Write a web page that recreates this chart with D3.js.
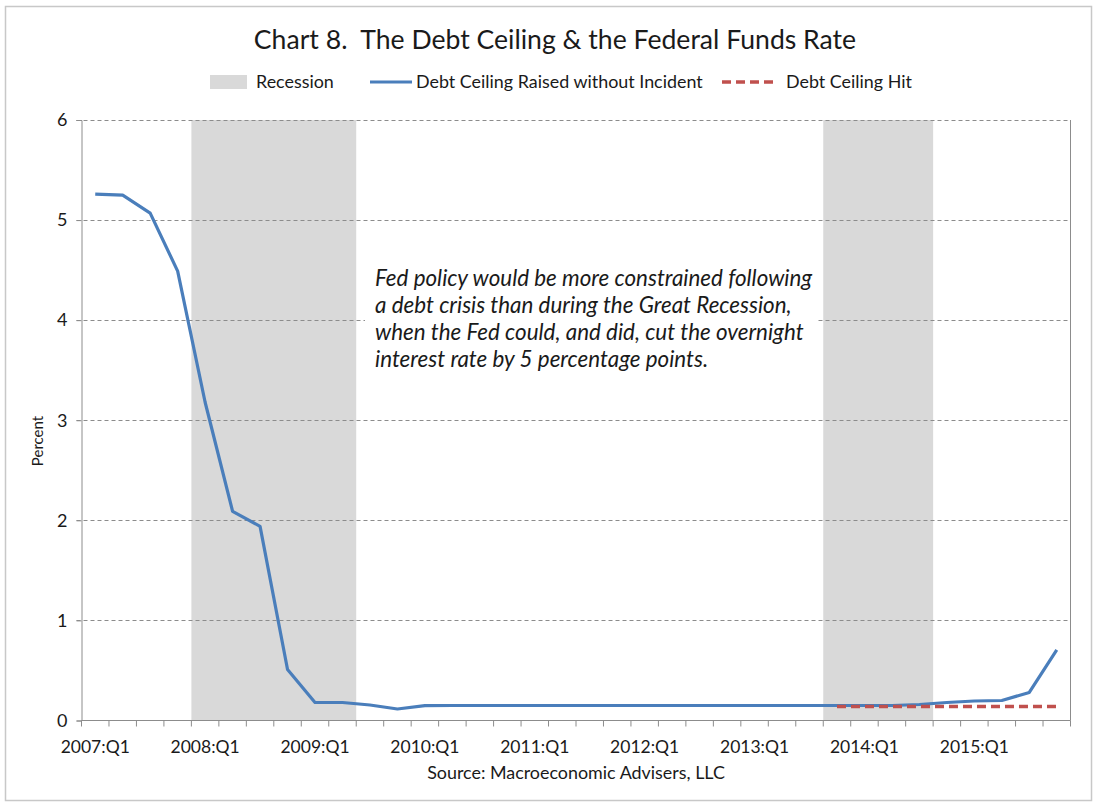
<!DOCTYPE html>
<html>
<head>
<meta charset="utf-8">
<script src="https://cdn.jsdelivr.net/npm/d3@7"></script>
<style>
  html, body { margin: 0; padding: 0; background: #fff; }
  svg { display: block; }
  text { font-family: Lato, "Open Sans", sans-serif; fill: #1a1a1a; }
</style>
</head>
<body>
<svg id="chart" width="1098" height="803"></svg>
<script>
// Quarterly categories, 2007:Q1 through 2015:Q4
const years = [2007, 2008, 2009, 2010, 2011, 2012, 2013, 2014, 2015];
const quarters = years.flatMap(y => ["Q1", "Q2", "Q3", "Q4"].map(q => `${y}:${q}`));

// Federal funds rate, percent (baseline path: debt ceiling raised without incident)
const raisedWithoutIncident = [
  5.26, 5.25, 5.07, 4.49,
  3.18, 2.09, 1.94, 0.51,
  0.18, 0.18, 0.155, 0.115,
  0.148, 0.15, 0.15, 0.15,
  0.15, 0.15, 0.15, 0.15,
  0.15, 0.15, 0.15, 0.15,
  0.15, 0.15, 0.15, 0.15,
  0.15, 0.15, 0.16, 0.18,
  0.195, 0.20, 0.28, 0.705
];

// Federal funds rate, percent (debt ceiling hit scenario, from 2013:Q4)
const debtCeilingHit = [
  null, null, null, null,
  null, null, null, null,
  null, null, null, null,
  null, null, null, null,
  null, null, null, null,
  null, null, null, null,
  null, null, null, 0.14,
  0.14, 0.14, 0.14, 0.14,
  0.14, 0.14, 0.14, 0.14
];

// Recession periods (first and last quarter)
const recessionStart = ["2008:Q1", "2013:Q4"];
const recessionEnd   = ["2009:Q2", "2014:Q3"];

// Axis labels
const yTicks = [0, 1, 2, 3, 4, 5, 6];
const xLabelQuarters = years.map(y => `${y}:Q1`);

const titleText = "Chart 8.  The Debt Ceiling & the Federal Funds Rate";
const noteLines = [
  "Fed policy would be more constrained following",
  "a debt crisis than during the Great Recession,",
  "when the Fed could, and did, cut the overnight",
  "interest rate by 5 percentage points."
];

const svg = d3.select("#chart");
const W = 1098, H = 803;
const plot = { left: 81.5, right: 1070.5, top: 120, bottom: 720.5 };

const x = d3.scaleBand().domain(quarters).range([plot.left, plot.right]).paddingInner(0).paddingOuter(0);
const y = d3.scaleLinear().domain([0, 6]).range([plot.bottom, plot.top]);
const cx = q => x(q) + x.bandwidth() / 2;

const BLUE = "#4a7ebb", RED = "#c0504d", GREY = "#d9d9d9";

// outer chart frame
svg.append("rect")
  .attr("x", 5.5).attr("y", 6.5).attr("width", W - 12).attr("height", H - 9)
  .attr("fill", "#fff").attr("stroke", "#c8c8c8").attr("stroke-width", 1.5);

// title
svg.append("text")
  .attr("x", 555).attr("y", 49)
  .attr("text-anchor", "middle")
  .style("font-size", "26.6px")
  .style("white-space", "pre")
  .text(titleText);

// recession bands
svg.append("g").selectAll("rect")
  .data(recessionStart.map((s, i) => [s, recessionEnd[i]]))
  .join("rect")
  .attr("x", d => x(d[0]))
  .attr("width", d => x(d[1]) + x.bandwidth() - x(d[0]))
  .attr("y", y(6))
  .attr("height", y(0) - y(6))
  .attr("fill", GREY);

// horizontal gridlines (dashed)
svg.append("g").selectAll("line")
  .data(yTicks.filter(t => t > 0))
  .join("line")
  .attr("x1", plot.left - 5).attr("x2", plot.right)
  .attr("y1", d => Math.round(y(d)) + 0.5).attr("y2", d => Math.round(y(d)) + 0.5)
  .attr("stroke", "#8c8c8c").attr("stroke-width", 1)
  .attr("stroke-dasharray", "4,3");

// annotation backdrop
svg.append("rect")
  .attr("x", 365).attr("y", 258).attr("width", 453).attr("height", 124)
  .attr("fill", "#fff");

// annotation text
svg.append("g").selectAll("text")
  .data(noteLines)
  .join("text")
  .attr("x", 375)
  .attr("y", (d, i) => 286 + i * 27)
  .style("font-size", "22.4px")
  .style("font-style", "italic")
  .text(d => d);

// y axis
const yAxis = d3.axisLeft(y).tickValues(yTicks).tickSize(5).tickPadding(9).tickFormat(d3.format("d"));
const gy = svg.append("g").attr("transform", `translate(${plot.left},0)`).call(yAxis);
gy.select(".domain").attr("stroke", "#8c8c8c");
gy.selectAll(".tick line").attr("stroke", "#8c8c8c");
gy.selectAll(".tick text").style("font-size", "18px").attr("fill", "#1a1a1a");

// right plot border
svg.append("line")
  .attr("x1", plot.right).attr("x2", plot.right)
  .attr("y1", plot.top).attr("y2", plot.bottom)
  .attr("stroke", "#8c8c8c");

// x axis: baseline, tick marks on quarter boundaries, labels on each Q1
const gx = svg.append("g");
gx.append("line")
  .attr("x1", plot.left).attr("x2", plot.right)
  .attr("y1", plot.bottom).attr("y2", plot.bottom)
  .attr("stroke", "#8c8c8c");
gx.selectAll("line.tick")
  .data(quarters.map(q => x(q)).concat([plot.right]))
  .join("line")
  .attr("class", "tick")
  .attr("x1", d => d).attr("x2", d => d)
  .attr("y1", plot.bottom).attr("y2", plot.bottom + 6)
  .attr("stroke", "#8c8c8c");
gx.selectAll("text")
  .data(xLabelQuarters)
  .join("text")
  .attr("x", d => cx(d))
  .attr("y", 753)
  .attr("text-anchor", "middle")
  .style("font-size", "17.5px")
  .text(d => d);

// y axis title
svg.append("text")
  .attr("transform", "translate(43,441) rotate(-90)")
  .attr("text-anchor", "middle")
  .style("font-size", "15px")
  .text("Percent");

// source
svg.append("text")
  .attr("x", 576).attr("y", 779)
  .attr("text-anchor", "middle")
  .style("font-size", "17.9px")
  .text("Source: Macroeconomic Advisers, LLC");

// series lines
const line = d3.line()
  .defined(d => d.v != null)
  .x(d => cx(d.q))
  .y(d => y(d.v));

svg.append("path")
  .datum(quarters.map((q, i) => ({ q, v: raisedWithoutIncident[i] })))
  .attr("d", line)
  .attr("fill", "none")
  .attr("stroke", BLUE)
  .attr("stroke-width", 3.2)
  .attr("stroke-linejoin", "round");

svg.append("path")
  .datum(quarters.map((q, i) => ({ q, v: debtCeilingHit[i] })))
  .attr("d", line)
  .attr("fill", "none")
  .attr("stroke", RED)
  .attr("stroke-width", 3.4)
  .attr("stroke-dasharray", "9,5");

// legend
const lg = svg.append("g");
const legendY = 82;
const legendFont = "17.9px";
lg.append("rect").attr("x", 210).attr("y", legendY - 7).attr("width", 37).attr("height", 14).attr("fill", GREY);
lg.append("text").attr("x", 256).attr("y", legendY + 6).style("font-size", legendFont).text("Recession");
lg.append("line").attr("x1", 370).attr("x2", 412).attr("y1", legendY).attr("y2", legendY)
  .attr("stroke", BLUE).attr("stroke-width", 3.2);
lg.append("text").attr("x", 416).attr("y", legendY + 6).style("font-size", legendFont).text("Debt Ceiling Raised without Incident");
lg.append("line").attr("x1", 722).attr("x2", 778).attr("y1", legendY).attr("y2", legendY)
  .attr("stroke", RED).attr("stroke-width", 3.4).attr("stroke-dasharray", "9,5");
lg.append("text").attr("x", 786).attr("y", legendY + 6).style("font-size", legendFont).text("Debt Ceiling Hit");
</script>
</body>
</html>
